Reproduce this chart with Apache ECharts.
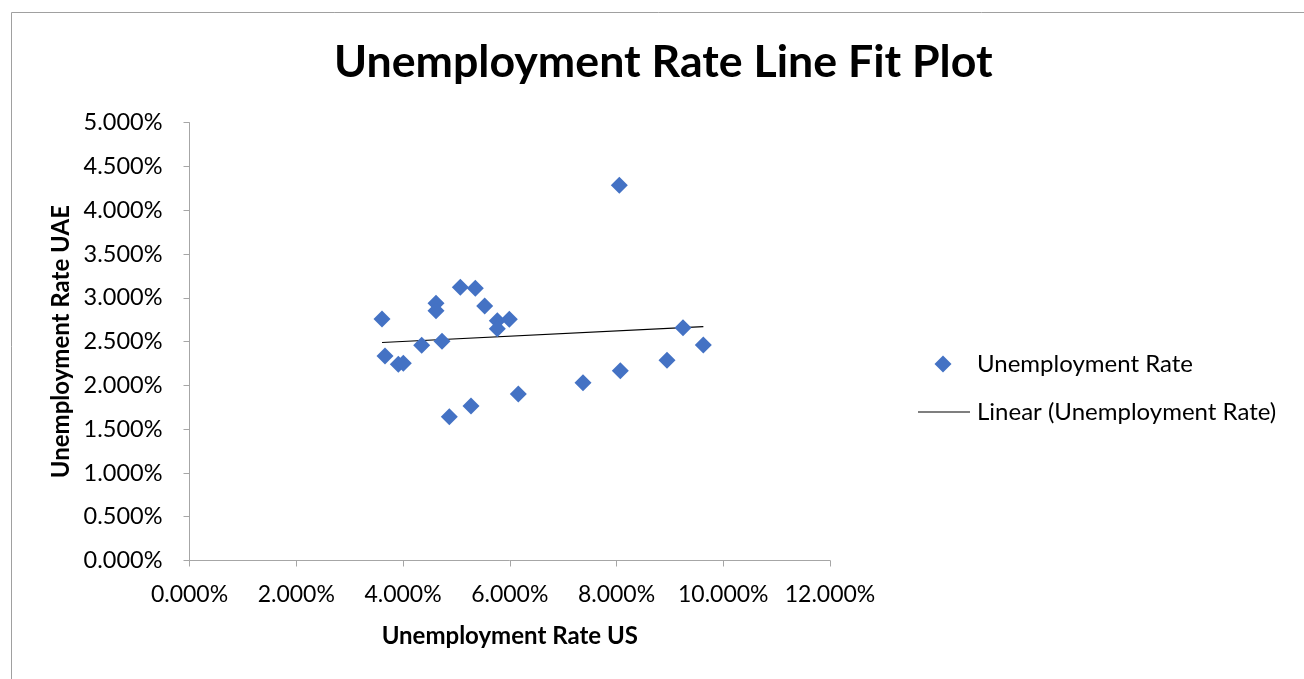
<!DOCTYPE html>
<html>
<head>
<meta charset="utf-8">
<script src="https://cdn.jsdelivr.net/npm/echarts@6/dist/echarts.min.js"></script>
<style>
  html, body { margin: 0; padding: 0; background: #fff; }
  #chart { width: 1304px; height: 679px; }
</style>
</head>
<body>
<div id="chart"></div>
<script>
// US unemployment rate (%) paired with UAE unemployment rate (%)
var usRate = [3.607, 3.663, 3.912, 4.006, 4.350, 4.618, 4.618, 4.731, 4.868, 5.074, 5.274, 5.355,
              5.530, 5.767, 5.767, 5.992, 6.160, 7.372, 8.072, 8.053, 8.946, 9.246, 9.627];
var uaeRate = [2.758, 2.336, 2.241, 2.253, 2.458, 2.937, 2.853, 2.503, 1.642, 3.120, 1.765, 3.109,
               2.907, 2.739, 2.648, 2.755, 1.902, 2.031, 2.168, 4.285, 2.286, 2.659, 2.461];

var seriesName = 'Unemployment Rate';
var trendName = 'Linear (Unemployment Rate)';
var titleText = 'Unemployment Rate Line Fit Plot';
var xAxisTitle = 'Unemployment Rate US';
var yAxisTitle = 'Unemployment Rate UAE';

// least-squares linear trendline across the observed US range
function linearFit(xs, ys) {
  var n = xs.length, sx = 0, sy = 0, sxx = 0, sxy = 0;
  for (var i = 0; i < n; i++) { sx += xs[i]; sy += ys[i]; sxx += xs[i] * xs[i]; sxy += xs[i] * ys[i]; }
  var slope = (n * sxy - sx * sy) / (n * sxx - sx * sx);
  var intercept = (sy - slope * sx) / n;
  var xmin = Math.min.apply(null, xs), xmax = Math.max.apply(null, xs);
  return [[xmin, intercept + slope * xmin], [xmax, intercept + slope * xmax]];
}

var points = usRate.map(function (x, i) { return [x, uaeRate[i]]; });
var trend = linearFit(usRate, uaeRate);

var FONT = 'Lato';
var pct = function (v) { return v.toFixed(3) + '%'; };
var chart = echarts.init(document.getElementById('chart'), null, { renderer: 'canvas' });

chart.setOption({
  backgroundColor: '#fff',
  animation: false,
  title: {
    text: titleText,
    left: 329,
    top: 35,
    textStyle: { fontFamily: FONT, fontWeight: 'bold', fontSize: 44.7, color: '#000' }
  },
  graphic: [{
    type: 'rect',
    shape: { x: 11.5, y: 12.5, width: 1400, height: 800 },
    style: { fill: null, stroke: '#a0a0a0', lineWidth: 1 },
    silent: true
  }],
  legend: [{
    data: [{ name: seriesName, icon: 'diamond' }],
    left: 929.5, top: 346,
    itemWidth: 17, itemHeight: 17,
    textStyle: { fontFamily: FONT, fontSize: 24, lineHeight: 26, color: '#000', padding: [0, 0, 0, 20.5] }
  }, {
    data: [{ name: trendName, icon: 'path://M0,0 L52,0 L52,1 L0,1 Z' }],
    left: 913, top: 394,
    itemWidth: 52, itemHeight: 1.2,
    itemStyle: { color: '#000' },
    textStyle: { fontFamily: FONT, fontSize: 24, lineHeight: 26, color: '#000', padding: [0, 0, 0, 2] }
  }],
  grid: { left: 189.5, right: 474, top: 122.7, bottom: 118.5, containLabel: false },
  xAxis: {
    type: 'value', min: 0, max: 12, interval: 2,
    name: xAxisTitle, nameLocation: 'middle', nameGap: 64,
    nameTextStyle: { fontFamily: FONT, fontWeight: 'bold', fontSize: 24, color: '#000' },
    axisLine: { show: true, onZero: false, lineStyle: { color: '#a6a6a6', width: 1 } },
    axisTick: { show: true, length: 6, lineStyle: { color: '#a6a6a6' } },
    splitLine: { show: false },
    axisLabel: { margin: 23, fontFamily: FONT, fontSize: 23, color: '#000', formatter: pct }
  },
  yAxis: {
    type: 'value', min: 0, max: 5, interval: 0.5,
    name: yAxisTitle, nameLocation: 'middle', nameGap: 116,
    nameTextStyle: { fontFamily: FONT, fontWeight: 'bold', fontSize: 24, color: '#000' },
    axisLine: { show: true, onZero: false, lineStyle: { color: '#a6a6a6', width: 1 } },
    axisTick: { show: true, length: 6, lineStyle: { color: '#a6a6a6' } },
    splitLine: { show: false },
    axisLabel: { margin: 27, fontFamily: FONT, fontSize: 23.5, color: '#000', formatter: pct }
  },
  series: [{
    name: seriesName,
    type: 'scatter',
    symbol: 'diamond',
    symbolSize: 17,
    itemStyle: { color: '#4472C4', opacity: 1 },
    data: points,
    z: 3
  }, {
    name: trendName,
    type: 'line',
    symbol: 'none',
    lineStyle: { color: '#000', width: 1.2 },
    data: trend,
    z: 2
  }]
});
</script>
</body>
</html>
